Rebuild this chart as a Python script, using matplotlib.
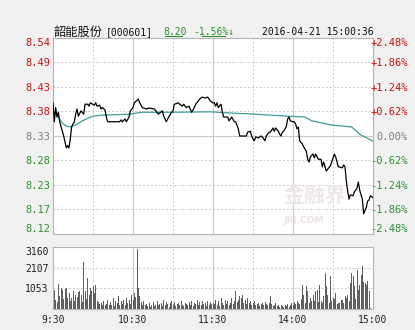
import numpy as np
import matplotlib.pyplot as plt
from matplotlib.lines import Line2D

# prev close and minute data (minute index 0 = 9:30, 240 = 15:00)
base = 8.33

price_min = [0, 1, 2, 3, 4, 5, 7, 8, 10, 11, 12, 13, 14, 16, 17, 18, 19, 21, 23, 24,
             26, 27, 28, 31, 32, 33, 35, 36, 37, 39, 40, 41, 50, 51, 52, 54, 55, 57, 58, 60,
             61, 64, 65, 67, 70, 72, 76, 79, 82, 83, 85, 86, 88, 90, 91, 94, 95, 97, 98, 100,
             102, 104, 106, 107, 109, 110, 112, 114, 116, 118, 120, 121, 122, 123, 124, 126, 127, 128, 131, 132,
             134, 136, 137, 139, 140, 143, 145, 146, 148, 149, 150, 151, 152, 154, 156, 157, 159, 160, 162, 163,
             165, 166, 167, 169, 170, 171, 172, 173, 175, 176, 177, 178, 180, 181, 182, 183, 184, 185, 187, 188,
             190, 191, 192, 193, 195, 196, 197, 199, 201, 202, 203, 205, 206, 208, 209, 211, 212, 214, 217, 218,
             219, 220, 221, 222, 223, 225, 226, 228, 229, 230, 232, 233, 235, 236, 237, 238, 240]
price_val = [8.40, 8.36, 8.39, 8.37, 8.38, 8.36, 8.34, 8.33, 8.305, 8.31, 8.305, 8.325, 8.35, 8.36, 8.376, 8.387, 8.372, 8.383, 8.376, 8.397,
             8.397, 8.393, 8.40, 8.395, 8.40, 8.393, 8.395, 8.387, 8.39, 8.385, 8.37, 8.36, 8.36, 8.364, 8.36, 8.366, 8.36, 8.37, 8.383, 8.39,
             8.40, 8.408, 8.40, 8.39, 8.387, 8.389, 8.387, 8.376, 8.383, 8.372, 8.36, 8.366, 8.376, 8.383, 8.397, 8.40, 8.397, 8.393, 8.397, 8.39,
             8.393, 8.38, 8.39, 8.397, 8.404, 8.408, 8.412, 8.41, 8.412, 8.404, 8.40, 8.40, 8.393, 8.40, 8.39, 8.397, 8.38, 8.37, 8.37, 8.362,
             8.37, 8.36, 8.36, 8.345, 8.33, 8.33, 8.33, 8.338, 8.34, 8.33, 8.324, 8.32, 8.328, 8.326, 8.33, 8.328, 8.32, 8.33, 8.338, 8.338,
             8.347, 8.34, 8.347, 8.34, 8.334, 8.33, 8.338, 8.34, 8.35, 8.366, 8.37, 8.362, 8.36, 8.36, 8.355, 8.345, 8.349, 8.32, 8.313, 8.307,
             8.298, 8.281, 8.275, 8.286, 8.292, 8.284, 8.292, 8.281, 8.281, 8.265, 8.275, 8.256, 8.26, 8.267, 8.275, 8.292, 8.286, 8.265, 8.263, 8.269,
             8.265, 8.235, 8.214, 8.197, 8.206, 8.204, 8.212, 8.22, 8.233, 8.216, 8.197, 8.166, 8.18, 8.193, 8.195, 8.204, 8.20]

avg_min = [0, 4, 7, 10, 13, 17, 22, 30, 37, 49, 58, 66, 88, 118, 136, 151, 175, 189, 194, 209, 224, 231, 240]
avg_val = [8.383, 8.37, 8.357, 8.351, 8.349, 8.353, 8.362, 8.372, 8.374, 8.375, 8.376, 8.38, 8.38, 8.381,
           8.378, 8.376, 8.372, 8.37, 8.362, 8.353, 8.349, 8.332, 8.319]

volume = [2260, 990, 480, 350, 1290, 650, 1070, 990, 500, 1000,
          1070, 550, 820, 400, 560, 900, 420, 720, 620, 850,
          900, 700, 380, 2410, 900, 500, 1580, 700, 1070, 900,
          1160, 800, 1240, 400, 380, 250, 300, 220, 390, 180,
          250, 480, 200, 350, 220, 560, 150, 390, 300, 650,
          200, 390, 250, 480, 200, 560, 300, 480, 250, 730,
          480, 820, 600, 3077, 1070, 650, 350, 220, 400, 180,
          250, 150, 300, 120, 200, 350, 150, 220, 400, 180,
          260, 300, 150, 450, 200, 380, 250, 120, 300, 420,
          200, 350, 150, 250, 300, 180, 400, 220, 150, 300,
          250, 180, 350, 200, 420, 150, 300, 250, 480, 200,
          350, 180, 400, 250, 300, 150, 420, 200, 350, 250,
          300, 250, 480, 200, 390, 150, 560, 300, 200, 480,
          250, 390, 200, 300, 560, 250, 400, 935, 350, 480,
          650, 560, 730, 300, 480, 250, 560, 300, 390, 200,
          300, 390, 200, 250, 300, 150, 250, 300, 200, 350,
          250, 200, 300, 680, 250, 150, 200, 300, 150, 200,
          120, 180, 150, 100, 200, 150, 250, 120, 180, 300,
          200, 350, 250, 400, 300, 250, 500, 1240, 700, 300,
          1190, 900, 300, 560, 400, 720, 400, 900, 990, 350,
          1240, 400, 300, 650, 1836, 1160, 720, 300, 1666, 400,
          560, 500, 820, 250, 300, 300, 480, 480, 300, 650,
          560, 720, 400, 1326, 1836, 1666, 1160, 500, 2006, 990,
          1240, 1750, 2176, 1400, 1326, 1240, 1410, 900, 50, 0,
          1240]

left_labels = ['8.12', '8.17', '8.23', '8.28', '8.33', '8.38', '8.43', '8.49', '8.54']
right_labels = ['-2.48%', '-1.86%', '-1.24%', '-0.62%', '0.00%', '+0.62%', '+1.24%', '+1.86%', '+2.48%']
vol_ticks = [1053, 2107, 3160]
time_pos = [0, 60, 120, 180, 240]
time_labels = ['9:30', '10:30', '11:30', '14:00', '15:00']

red = '#cc1010'
green = '#2f8f2f'
gray = '#808080'
grid_c = '#c8c8c8'
mono = 'DejaVu Sans Mono'

W, H = 415, 330
fig = plt.figure(figsize=(W / 100, H / 100), dpi=100)
fig.patch.set_facecolor('#f0f0f0')

ax = fig.add_axes([53 / W, 1 - 234 / H, 320 / W, 196 / H])
axv = fig.add_axes([53 / W, 1 - 309 / H, 320 / W, 62 / H])

lo, hi = base * (1 - 0.0248), base * (1 + 0.0248)
levels = [base * (1 + k * 0.0062) for k in range(-4, 5)]

# grid
for a in (ax, axv):
    a.set_facecolor('white')
    for s in a.spines.values():
        s.set_color('#b4b4b4')
        s.set_linewidth(0.8)
    for m in range(30, 240, 30):
        if m % 60 == 0:
            a.axvline(m, color=grid_c, lw=0.8, zorder=1)
        else:
            a.axvline(m, color=grid_c, lw=0.7, ls=(0, (2, 2)), zorder=1)

for k, lv in enumerate(levels[1:-1]):
    if k == 3:
        ax.axhline(lv, color=grid_c, lw=0.8, zorder=1)
    else:
        ax.axhline(lv, color=grid_c, lw=0.7, ls=(0, (2, 2)), zorder=1)

# watermark
ax.text(0.72, 0.2, '金融界', transform=ax.transAxes, fontsize=15, fontweight='bold',
        family='Noto Sans CJK SC', color='#eee6e6', ha='left', va='center', zorder=1)
ax.text(0.72, 0.07, 'JRJ.COM', transform=ax.transAxes, fontsize=6.5, fontweight='bold',
        family='DejaVu Sans', color='#f0e0e0', ha='left', va='center', zorder=1)

ax.plot(price_min, price_val, color='black', lw=0.9, zorder=3)
ax.plot(avg_min, avg_val, color='#3c9c9c', lw=0.9, zorder=2)
ax.set_xlim(0, 240)
ax.set_ylim(lo, hi)
ax.set_xticks([])
ax.set_yticks(levels)
ax.set_yticklabels(left_labels, family=mono, fontsize=7.5)
ax.tick_params(axis='y', length=0, pad=2)

ax2 = ax.twinx()
ax2.set_ylim(lo, hi)
ax2.set_yticks(levels)
ax2.set_yticklabels(right_labels, family=mono, fontsize=7.5)
ax2.tick_params(axis='y', length=0, pad=25)
for s in ax2.spines.values():
    s.set_visible(False)

for i, (l1, l2) in enumerate(zip(ax.get_yticklabels(), ax2.get_yticklabels())):
    c = red if i > 4 else (gray if i == 4 else green)
    l1.set_color(c)
    l2.set_color(c)
    l2.set_ha('right')
    if i == 8:
        l1.set_va('top')
        l2.set_va('top')
    if i == 0:
        l1.set_va('bottom')
        l2.set_va('bottom')

# volume
axv.bar(np.arange(len(volume)), volume, width=0.75, color='#5f5f5f', zorder=2)
axv.set_xlim(0, 240)
axv.set_ylim(0, 3160)
for v in vol_ticks[:2]:
    axv.axhline(v, color=grid_c, lw=0.7, ls=(0, (2, 2)), zorder=1)
axv.set_yticks(vol_ticks)
axv.set_yticklabels([str(v) for v in vol_ticks], family=mono, fontsize=7)
axv.get_yticklabels()[-1].set_va('top')
axv.set_xticks(time_pos)
axv.set_xticklabels(time_labels, family=mono, fontsize=7)
axv.tick_params(length=0, colors='#222222')
axv.tick_params(axis='y', pad=3)
axv.tick_params(axis='x', pad=4)

# header
def px(x, y):
    return x / W, 1 - y / H

fig.text(*px(53, 32), '韶能股份', family='Noto Sans CJK SC', fontsize=8.8, va='center', color='#111111')
fig.text(*px(106, 32), '[000601]', family=mono, fontsize=7, va='center', color='#111111')
fig.text(*px(163, 32), '8.20', family=mono, fontsize=7, va='center', color=green)
fig.text(*px(193, 32), '-1.56%↓', family=mono, fontsize=7, va='center', color=green)
fig.text(*px(262, 32), '2016-04-21 15:00:36', family=mono, fontsize=7, va='center', color='#111111')
fig.add_artist(Line2D([165 / W, 182 / W], [1 - 36 / H] * 2, color=green, lw=0.8))
fig.add_artist(Line2D([202 / W, 225 / W], [1 - 36 / H] * 2, color=green, lw=0.8))

fig.savefig('out.png', dpi=100, facecolor=fig.get_facecolor())
